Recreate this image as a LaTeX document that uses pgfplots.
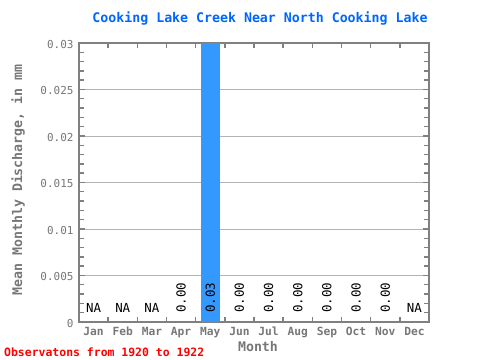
\documentclass[border=0pt]{standalone}
\usepackage{pgfplots}
\pgfplotsset{compat=1.18}
\usepackage{fontspec}
\setmainfont{DejaVu Sans Mono}
\definecolor{axgray}{HTML}{808080}
\definecolor{txtgray}{HTML}{777777}
\definecolor{gridgray}{HTML}{B4B4B4}
\definecolor{barblue}{HTML}{3399FF}
\definecolor{titleblue}{HTML}{0066FF}
\begin{document}
\begin{tikzpicture}
\useasboundingbox (0bp,0bp) rectangle (480bp,360bp);
\begin{axis}[
  at={(79bp,38bp)}, anchor=south west, scale only axis,
  width=350bp, height=279bp,
  xmin=0.5, xmax=12.5, ymin=0, ymax=0.03,
  axis line style={draw=axgray, line width=1.8bp},
  xtick={1,...,12},
  xticklabels={Jan,Feb,Mar,Apr,May,Jun,Jul,Aug,Sep,Oct,Nov,Dec},
  minor xtick={1.5,2.5,...,11.5},
  every major x tick/.style={draw=none},
  every minor x tick/.style={draw=axgray, line width=1.6bp},
  every minor y tick/.style={draw=axgray, line width=1.4bp},
  every major y tick/.style={draw=axgray, line width=1.4bp},
  ytick={0,0.005,0.01,0.015,0.02,0.025,0.03},
  yticklabels={0,0.005,0.01,0.015,0.02,0.025,0.03},
  scaled y ticks=false,
  minor y tick num=4,
  tick align=inside,
  xtick pos=both, ytick pos=both,
  major tick length=6bp, minor tick length=5bp,
  ymajorgrids, major grid style={draw=gridgray, line width=0.8bp},
  /pgf/number format/assume math mode=true,
  xticklabel style={font=\fontsize{11.3}{13}\selectfont\bfseries, text=txtgray, anchor=north, text height=8.5bp, text depth=2.5bp, yshift=-1bp},
  yticklabel style={font=\fontsize{11}{13}\selectfont, text=txtgray, xshift=-2bp, yshift=-1.5bp},
  clip=false,
]
\addplot[ybar, bar width=0.66, fill=barblue, draw=none] coordinates {(5,0.03)};
\addplot[only marks, mark=none, nodes near coords, point meta=explicit symbolic,
  every node near coord/.style={anchor=base, inner sep=0pt, font=\fontsize{12.5}{14}\selectfont, text=black}]
  table[meta=label] {
x y label
1 0.00097 NA
2 0.00097 NA
3 0.00097 NA
12 0.00097 NA
};
\addplot[only marks, mark=none, nodes near coords, point meta=explicit symbolic,
  every node near coord/.style={anchor=west, rotate=90, inner sep=0pt, font=\fontsize{12.5}{14}\selectfont, text=black}]
  table[meta=label] {
x y label
4 0.00097 0.00
5 0.00097 0.03
6 0.00097 0.00
7 0.00097 0.00
8 0.00097 0.00
9 0.00097 0.00
10 0.00097 0.00
11 0.00097 0.00
};
\end{axis}
\node[font=\fontsize{13.3}{15}\selectfont\bfseries, text=titleblue] at (260bp,342bp) {Cooking Lake Creek Near North Cooking Lake};
\node[rotate=90, font=\fontsize{13.3}{15}\selectfont\bfseries, text=txtgray] at (18bp,180bp) {Mean Monthly Discharge, in mm};
\node[font=\fontsize{13.3}{15}\selectfont\bfseries, text=txtgray] at (258bp,13bp) {Month};
\node[anchor=west, inner sep=0pt, font=\fontsize{11.5}{13}\selectfont\bfseries, text=red] at (4bp,8bp) {Observatons from 1920 to 1922};
\end{tikzpicture}
\end{document}
